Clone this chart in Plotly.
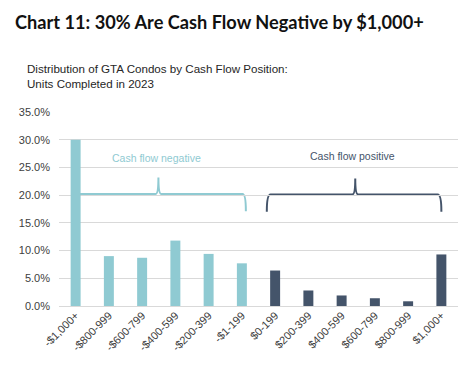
import plotly.graph_objects as go

categories = ["-$1,000+", "-$800-999", "-$600-799", "-$400-599", "-$200-399", "-$1-199",
              "$0-199", "$200-399", "$400-599", "$600-799", "$800-999", "$1,000+"]
shares = [30.0, 9.0, 8.7, 11.8, 9.4, 7.7, 6.4, 2.8, 1.9, 1.4, 0.85, 9.3]
groups = ["neg"] * 6 + ["pos"] * 6
y_ticks = [0, 5, 10, 15, 20, 25, 30, 35]
y_tick_labels = [f"{v:.1f}%" for v in y_ticks]

NEG = "#8fcad2"
POS = "#44546a"
colors = [NEG if g == "neg" else POS for g in groups]

fig = go.Figure()
fig.add_trace(go.Bar(x=categories, y=shares, marker=dict(color=colors, line=dict(width=0)),
                     width=0.3, hoverinfo="x+y"))

font_main = "Liberation Sans, Arial, sans-serif"

fig.update_layout(
    width=470, height=371,
    margin=dict(l=59, r=12, t=112, b=65, autoexpand=False),
    paper_bgcolor="white", plot_bgcolor="white",
    showlegend=False,
    font=dict(family=font_main, size=11, color="#404040"),
    xaxis=dict(type="category", tickangle=-45, showgrid=False, showline=False, automargin=False,
               ticks="", tickfont=dict(size=11, color="#404040"), range=[-0.5, 11.5]),
    yaxis=dict(range=[0, 35], tickvals=y_ticks, ticktext=y_tick_labels, automargin=False,
               showgrid=True, gridcolor="#d9d9d9", gridwidth=1,
               zeroline=True, zerolinecolor="#d9d9d9", zerolinewidth=1,
               showline=False, ticks="", ticklabelstandoff=8,
               tickfont=dict(size=11, color="#404040")),
    bargap=0.7,
)

# braces
neg_path = ("M 0.13,20.2 L 2.40,20.2 Q 2.49,20.2 2.49,23.2 Q 2.49,20.2 2.58,20.2 "
            "L 5.02,20.2 Q 5.12,20.2 5.12,17.1")
pos_path = ("M 5.75,17.0 Q 5.75,20.1 5.86,20.1 L 8.32,20.1 Q 8.41,20.1 8.41,23.0 "
            "Q 8.41,20.1 8.50,20.1 L 10.89,20.1 Q 11.0,20.1 11.0,17.0")
fig.add_shape(type="path", path=neg_path, xref="x", yref="y",
              line=dict(color=NEG, width=2), layer="below")
fig.add_shape(type="path", path=pos_path, xref="x", yref="y",
              line=dict(color=POS, width=2), layer="below")

fig.add_annotation(x=2.44, y=26.7, xref="x", yref="y", text="Cash flow negative",
                   showarrow=False, font=dict(size=10.5, color=NEG, family=font_main))
fig.add_annotation(x=8.33, y=27.0, xref="x", yref="y", text="Cash flow positive",
                   showarrow=False, font=dict(size=10.5, color=POS, family=font_main))

# title and subtitle
fig.add_annotation(x=(13 - 59) / 399, y=1 + (112 - 22) / 194, xref="paper", yref="paper",
                   yanchor="middle", xanchor="left", showarrow=False,
                   text="<b>Chart 11: 30% Are Cash Flow Negative by $1,000+</b>",
                   font=dict(size=18.2, color="#111111", family="Lato, Open Sans, sans-serif"))
fig.add_annotation(x=(25 - 59) / 399, y=1 + (112 - 76) / 194, xref="paper", yref="paper",
                   xanchor="left", yanchor="middle", align="left", showarrow=False,
                   text="Distribution of GTA Condos by Cash Flow Position:<br>Units Completed in 2023",
                   font=dict(size=11.6, color="#262626", family=font_main))

fig.write_html("out.html", config={"displayModeBar": False},
               post_script="document.body.style.margin='0';")
